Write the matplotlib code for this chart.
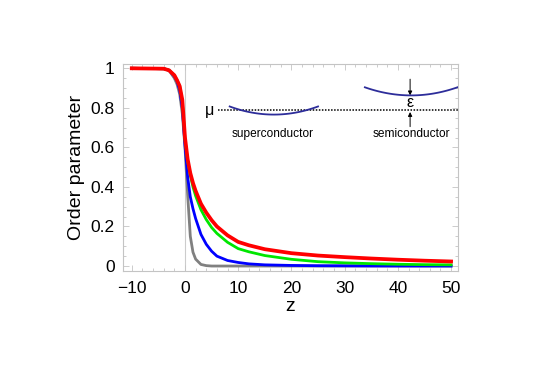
import numpy as np
import matplotlib.pyplot as plt
from matplotlib.ticker import MultipleLocator

plt.rcParams['font.family'] = ['Liberation Sans', 'DejaVu Sans']

# z grid
z = [-10, -4, -3, -2, -1.5, -1, -0.5, 0, 0.5, 1, 1.5, 2, 3, 4, 5, 6, 8, 10,
     12, 15, 20, 25, 30, 35, 40, 45, 50]

gray = [1, 0.998, 0.99, 0.95, 0.92, 0.87, 0.77, 0.6, 0.36, 0.15, 0.07, 0.035,
        0.008, 0.002, 0, 0, 0, 0, 0, 0, 0, 0, 0, 0, 0, 0, 0]
blue = [1, 0.998, 0.99, 0.96, 0.935, 0.89, 0.8, 0.61, 0.45, 0.35, 0.29, 0.24,
        0.16, 0.11, 0.075, 0.05, 0.028, 0.018, 0.011, 0.006, 0.003, 0.0015,
        0.001, 0.0005, 0.0003, 0.0002, 0.0001]
green = [1, 0.998, 0.99, 0.965, 0.94, 0.91, 0.83, 0.64, 0.53, 0.46, 0.4, 0.355,
         0.285, 0.235, 0.195, 0.165, 0.12, 0.088, 0.072, 0.053, 0.034, 0.022,
         0.016, 0.012, 0.009, 0.007, 0.006]
red = [1, 0.998, 0.99, 0.965, 0.94, 0.91, 0.84, 0.65, 0.54, 0.47, 0.42, 0.38,
       0.315, 0.27, 0.232, 0.2, 0.155, 0.122, 0.105, 0.085, 0.065, 0.053,
       0.045, 0.038, 0.032, 0.027, 0.023]

# schematic inset
mu_level = 0.787
sc_center, sc_half, sc_bottom, sc_rise = 16.7, 8.3, 0.766, 0.041
semi_center, semi_half, semi_bottom, semi_rise = 42.5, 8.7, 0.863, 0.041

fig = plt.figure(figsize=(5.38, 3.83), dpi=100)
ax = fig.add_axes([0.2286, 0.2925, 0.6227, 0.5405])

ax.axvline(0, color='#cccccc', lw=0.8, zorder=1)
ax.plot(z, gray, color='#808080', lw=2.0, zorder=2)
ax.plot(z, blue, color='#0000ff', lw=2.0, zorder=3)
ax.plot(z, green, color='#00e600', lw=2.0, zorder=4)
ax.plot(z, red, color='#ff0000', lw=2.7, zorder=5)

# inset: chemical potential and bands
ax.plot([6.2, 51.3], [mu_level, mu_level], color='black', lw=1.1,
        ls=(0, (1, 1)), zorder=6)
ax.text(4.6, mu_level, 'μ', fontsize=11.5, ha='center', va='center')
arc_color = '#2d2d9a'
for c, h, b, r in [(sc_center, sc_half, sc_bottom, sc_rise),
                   (semi_center, semi_half, semi_bottom, semi_rise)]:
    xs = np.linspace(c - h, c + h, 60)
    ax.plot(xs, b + r * ((xs - c) / h) ** 2, color=arc_color, lw=1.3, zorder=6)
ax.annotate('', xy=(42.3, semi_bottom), xytext=(42.3, 0.945),
            arrowprops=dict(arrowstyle='-|>', color='black', lw=0.7,
                            mutation_scale=6, shrinkA=0, shrinkB=0))
ax.annotate('', xy=(42.3, mu_level - 0.008), xytext=(42.3, 0.705),
            arrowprops=dict(arrowstyle='-|>', color='black', lw=0.7,
                            mutation_scale=6, shrinkA=0, shrinkB=0))
ax.text(42.3, 0.826, 'ε', fontsize=11.5, ha='center', va='center')
ax.text(16.5, 0.67, 'superconductor', fontsize=8.6, ha='center', va='center')
ax.text(42.6, 0.67, 'semiconductor', fontsize=8.6, ha='center', va='center')

ax.set_xlim(-11.65, 51.3)
ax.set_ylim(-0.025, 1.022)
ax.xaxis.set_major_locator(MultipleLocator(10))
ax.xaxis.set_minor_locator(MultipleLocator(2))
ax.yaxis.set_major_locator(MultipleLocator(0.2))
ax.yaxis.set_minor_locator(MultipleLocator(0.05))
ax.set_yticks([0, 0.2, 0.4, 0.6, 0.8, 1])
ax.set_yticklabels(['0', '0.2', '0.4', '0.6', '0.8', '1'])
ax.set_xticks([-10, 0, 10, 20, 30, 40, 50])
ax.set_xticklabels(['\u221210', '0', '10', '20', '30', '40', '50'])
for s in ax.spines.values():
    s.set_color('#c4c4c4')
    s.set_linewidth(0.8)
ax.tick_params(which='both', direction='in', top=True, right=True,
               color='#c4c4c4', labelsize=12.5, width=0.6)
ax.tick_params(which='major', length=4)
ax.tick_params(axis='x', which='major', pad=7)
ax.tick_params(axis='y', which='major', pad=6)
ax.tick_params(which='minor', length=2)
ax.set_xlabel('z', fontsize=14, labelpad=2)
ax.set_ylabel('Order parameter', fontsize=14, labelpad=4)

fig.savefig('out.png', dpi=100)
